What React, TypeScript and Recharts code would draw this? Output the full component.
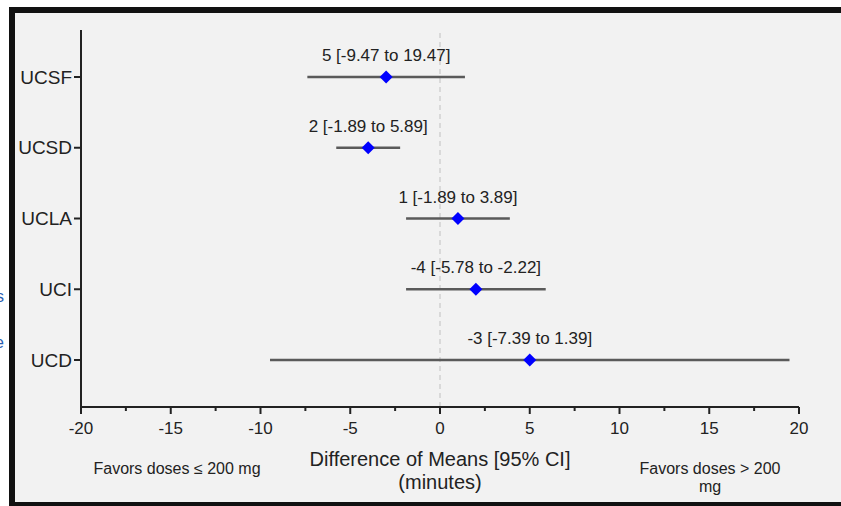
import React from 'react'
import { ScatterChart, XAxis, YAxis, Scatter, ErrorBar, ReferenceLine } from 'recharts'

const sites = ['UCSF', 'UCSD', 'UCLA', 'UCI', 'UCD']
const means = [-3, -4, 1, 2, 5]
const lower = [-7.39, -5.78, -1.89, -1.89, -9.47]
const upper = [1.39, -2.22, 3.89, 5.89, 19.47]
// labels as printed above each row in the figure
const labels = ['5 [-9.47 to 19.47]', '2 [-1.89 to 5.89]', '1 [-1.89 to 3.89]', '-4 [-5.78 to -2.22]', '-3 [-7.39 to 1.39]']
const xTicks = [-20, -17.5, -15, -12.5, -10, -7.5, -5, -2.5, 0, 2.5, 5, 7.5, 10, 12.5, 15, 17.5, 20]

const FONT = '"Liberation Sans", Arial, sans-serif'
const TICK_SIZE = 7
const TICK_MARGIN = 8

const data = sites.map((s, i) => ({
  site: s,
  pos: sites.length - i,
  mean: means[i],
  err: [means[i] - lower[i], upper[i] - means[i]],
  label: labels[i],
}))

const XTick = ({ x, y, payload }: any) => {
  const axisY = y - TICK_SIZE - TICK_MARGIN
  const major = payload.value % 5 === 0
  return (
    <g>
      <line x1={x} x2={x} y1={axisY} y2={axisY + (major ? TICK_SIZE : 4)} stroke="#222" strokeWidth={2} />
      {major && (
        <text x={x} y={y} dy="0.71em" textAnchor="middle" fontSize={17} fill="#222" fontFamily={FONT}>
          {payload.value}
        </text>
      )}
    </g>
  )
}

const Diamond = ({ cx, cy, payload }: any) => (
  <g>
    <polygon points={`${cx},${cy - 6.5} ${cx + 6.5},${cy} ${cx},${cy + 6.5} ${cx - 6.5},${cy}`} fill="#0000ff" />
    <text x={cx} y={cy - 16} textAnchor="middle" fontSize={17} fill="#222" fontFamily={FONT}>
      {payload.label}
    </text>
  </g>
)

const AxisTitle = ({ viewBox }: any) => {
  const cx = viewBox.x + viewBox.width / 2
  return (
    <text x={cx} y={viewBox.y + 59} textAnchor="middle" fontSize={20} fill="#222" fontFamily={FONT}>
      <tspan x={cx}>Difference of Means [95% CI]</tspan>
      <tspan x={cx} dy={23}>(minutes)</tspan>
    </text>
  )
}

export default function App() {
  return (
    <div style={{ position: 'absolute', left: 0, top: 0, width: 841, height: 506, overflow: 'hidden', background: '#fff' }}>
      <svg width={841} height={506} style={{ position: 'absolute', left: 0, top: 0 }}>
        <rect x={9} y={7} width={840} height={500} fill="#111" />
        <rect x={15} y={13} width={840} height={489} fill="#f2f2f2" />
        <text x={4} y={302} textAnchor="end" fontSize={16} fill="#2a5db0" fontFamily={FONT}>s</text>
        <text x={4} y={348} textAnchor="end" fontSize={16} fill="#2a5db0" fontFamily={FONT}>e</text>
        <text x={177} y={474} textAnchor="middle" fontSize={16} fill="#222" fontFamily={FONT}>
          Favors doses ≤ 200 mg
        </text>
        <text x={710} y={474} textAnchor="middle" fontSize={16} fill="#222" fontFamily={FONT}>
          <tspan x={710}>Favors doses &gt; 200</tspan>
          <tspan x={710} dy={18}>mg</tspan>
        </text>
      </svg>
      <div style={{ position: 'absolute', left: 0, top: 0 }}>
        <ScatterChart width={841} height={506} margin={{ top: 30, right: 42, bottom: 0, left: 0 }}>
          <XAxis
            type="number"
            dataKey="mean"
            domain={[-20, 20]}
            ticks={xTicks}
            interval={0}
            height={99}
            tickSize={TICK_SIZE}
            tickMargin={TICK_MARGIN}
            tickLine={false}
            tick={<XTick />}
            axisLine={{ stroke: '#222', strokeWidth: 2 }}
            label={<AxisTitle />}
          />
          <YAxis
            type="number"
            dataKey="pos"
            domain={[0.336, 5.664]}
            ticks={[1, 2, 3, 4, 5]}
            interval={0}
            width={81}
            tickSize={7}
            tickMargin={2}
            tickFormatter={(v: number) => sites[sites.length - v]}
            tick={{ fontSize: 19, fill: '#222', fontFamily: FONT }}
            tickLine={{ stroke: '#222', strokeWidth: 2 }}
            axisLine={{ stroke: '#222', strokeWidth: 2 }}
          />
          <ReferenceLine x={0} stroke="#c8c8c8" strokeDasharray="5 4" strokeWidth={1.2} />
          <Scatter data={data} shape={<Diamond />} isAnimationActive={false}>
            <ErrorBar dataKey="err" direction="x" width={0} stroke="#5a5a5a" strokeWidth={2.5} isAnimationActive={false} />
          </Scatter>
        </ScatterChart>
      </div>
    </div>
  )
}
